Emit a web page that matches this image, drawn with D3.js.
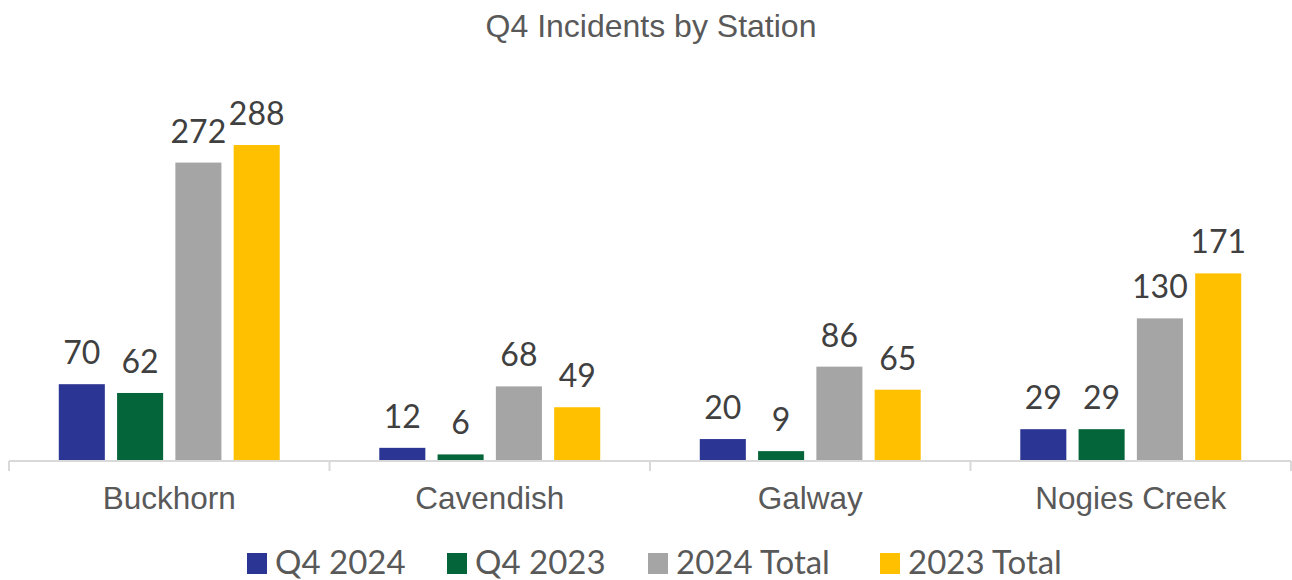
<!DOCTYPE html>
<html>
<head>
<meta charset="utf-8">
<script src="https://cdn.jsdelivr.net/npm/d3@7"></script>
<style>
  body { margin: 0; background: #fff; }
</style>
</head>
<body>
<div id="chart"></div>
<script>
// data
const stations = ["Buckhorn", "Cavendish", "Galway", "Nogies Creek"]
const seriesNames = ["Q4 2024", "Q4 2023", "2024 Total", "2023 Total"]
const q4_2024 = [70, 12, 20, 29]
const q4_2023 = [62, 6, 9, 29]
const total2024 = [272, 68, 86, 130]
const total2023 = [288, 49, 65, 171]
const colors = ["#2B3593", "#05653A", "#A5A5A5", "#FFC000"]

const seriesValues = [q4_2024, q4_2023, total2024, total2023]

const width = 1292, height = 580
const baseY = 461

const svg = d3.select("#chart")
  .append("svg")
  .attr("width", width)
  .attr("height", height)

// title
svg.append("text")
  .attr("x", 651)
  .attr("y", 37)
  .attr("text-anchor", "middle")
  .style("font-family", "Liberation Sans, Arial, sans-serif")
  .style("font-size", "32px")
  .style("fill", "#595959")
  .text("Q4 Incidents by Station")

// scales
const x0 = d3.scaleBand()
  .domain(stations)
  .range([9, 1291])
  .padding(0)

const x1 = d3.scaleBand()
  .domain(seriesNames)
  .range([0, x0.bandwidth()])
  .paddingInner(0.21)
  .paddingOuter(0.854)

const y = d3.scaleLinear()
  .domain([0, 350])
  .range([baseY, 77])

// bars
const rows = []
stations.forEach((s, i) => {
  seriesNames.forEach((k, j) => {
    rows.push({station: s, key: k, value: seriesValues[j][i], color: colors[j]})
  })
})

svg.append("g")
  .selectAll("rect")
  .data(rows)
  .join("rect")
  .attr("x", d => x0(d.station) + x1(d.key))
  .attr("y", d => y(d.value))
  .attr("width", x1.bandwidth())
  .attr("height", d => baseY - y(d.value))
  .attr("fill", d => d.color)

// value labels
svg.append("g")
  .selectAll("text")
  .data(rows)
  .join("text")
  .attr("x", d => x0(d.station) + x1(d.key) + x1.bandwidth() / 2)
  .attr("y", d => y(d.value) - 20)
  .attr("text-anchor", "middle")
  .style("font-family", "Lato, sans-serif")
  .style("font-size", "32px")
  .style("fill", "#404040")
  .text(d => d.value)

// x axis
const axis = svg.append("g")
  .attr("transform", `translate(0,${baseY})`)
  .call(d3.axisBottom(x0).tickSize(0).tickFormat(""))
axis.select(".domain").attr("stroke", "#D9D9D9").attr("stroke-width", 2)
  .attr("d", "M9,0H1291")

const bounds = stations.map(s => x0(s)).concat([x0.range()[1]])
axis.selectAll(".bound")
  .data(bounds)
  .join("line")
  .attr("class", "bound")
  .attr("x1", d => d).attr("x2", d => d)
  .attr("y1", 0).attr("y2", 10)
  .attr("stroke", "#D9D9D9")
  .attr("stroke-width", 2)

svg.append("g")
  .selectAll("text")
  .data(stations)
  .join("text")
  .attr("x", d => x0(d) + x0.bandwidth() / 2)
  .attr("y", 509)
  .attr("text-anchor", "middle")
  .style("font-family", "Liberation Sans, Arial, sans-serif")
  .style("font-size", "31.5px")
  .style("fill", "#595959")
  .text(d => d)

// legend
const legendX = [247, 447, 648, 880]
const legend = svg.append("g")
  .selectAll("g")
  .data(seriesNames)
  .join("g")
  .attr("transform", (d, i) => `translate(${legendX[i]},553)`)

legend.append("rect")
  .attr("width", 20)
  .attr("height", 21)
  .attr("fill", (d, i) => colors[i])

legend.append("text")
  .attr("x", 28)
  .attr("y", 21)
  .style("font-family", "Lato, sans-serif")
  .style("font-size", "33px")
  .style("fill", "#595959")
  .text(d => d)
</script>
</body>
</html>
